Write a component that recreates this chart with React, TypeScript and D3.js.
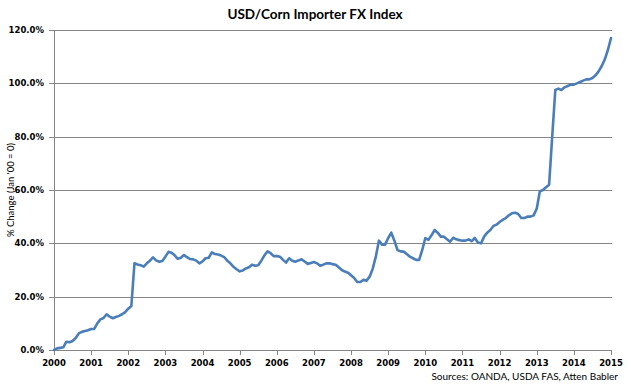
import React from "react";
import * as d3 from "d3";

const title = "USD/Corn Importer FX Index";
const yAxisTitle = "% Change (Jan '00 = 0)";
const sourceNote = "Sources: OANDA, USDA FAS, Atten Babler";
const startYear = 2000;
const yearTicks = d3.range(2000, 2016);
const yTicks = [0, 20, 40, 60, 80, 100, 120];

// Monthly values, Jan 2000 .. Jan 2015 (% change vs Jan 2000)
const values2000 = [0, 0.6, 0.8, 1, 3.1, 2.9, 3.4, 4.5, 6.2, 6.8, 7.1, 7.4];
const values2001 = [7.9, 7.9, 10, 11.5, 12, 13.4, 12.5, 11.9, 12.4, 12.8, 13.4, 14.2];
const values2002 = [15.5, 16.5, 32.5, 32.1, 31.8, 31.25, 32.5, 33.5, 34.75, 33.6, 33.1, 33.4];
const values2003 = [35, 36.8, 36.5, 35.5, 34.2, 34.6, 35.6, 34.8, 34.1, 34, 33.5, 32.5];
const values2004 = [33.2, 34.4, 34.6, 36.6, 36, 35.8, 35.4, 34.8, 33.5, 32.5, 31.2, 30.3];
const values2005 = [29.5, 29.8, 30.6, 31, 32, 31.6, 31.8, 33.5, 35.5, 37, 36.3, 35.2];
const values2006 = [35.2, 35, 33.8, 32.8, 34.4, 33.5, 33.1, 33.6, 34, 33.2, 32.3, 32.6];
const values2007 = [33, 32.5, 31.6, 32, 32.5, 32.5, 32.2, 32, 31, 30, 29.4, 29];
const values2008 = [28, 27, 25.5, 25.5, 26.3, 26, 27.5, 30.5, 35, 41, 39.5, 39.5];
const values2009 = [42, 44, 41, 37.5, 37, 36.9, 36, 35, 34.4, 33.8, 33.8, 37.5];
const values2010 = [42, 41.3, 43, 45, 44, 42.5, 42.5, 41.5, 40.6, 42.1, 41.5, 41.2];
const values2011 = [41, 41, 41.5, 40.8, 42, 40.3, 40, 42.5, 44, 45, 46.5, 47];
const values2012 = [48, 48.8, 49.5, 50.5, 51.3, 51.5, 51, 49.5, 49.5, 50, 50, 50.5];
const values2013 = [53, 59.5, 60, 61, 62, 80, 97.5, 98, 97.5, 98.5, 99, 99.5];
const values2014 = [99.5, 100, 100.5, 101, 101.5, 101.5, 102, 103, 104.5, 106.5, 109, 112.5];
const values2015 = [117];

const allValues = [
  ...values2000, ...values2001, ...values2002, ...values2003, ...values2004,
  ...values2005, ...values2006, ...values2007, ...values2008, ...values2009,
  ...values2010, ...values2011, ...values2012, ...values2013, ...values2014,
  ...values2015,
];

const W = 628;
const H = 388;
const left = 54;
const right = 611;
const top = 30;
const bottom = 350;

export default function App() {
  const x = d3.scaleLinear().domain([2000, 2015]).range([left, right]);
  const y = d3.scaleLinear().domain([0, 120]).range([bottom, top]);
  const data = allValues.map((v, i) => ({ t: startYear + i / 12, v }));
  const line = d3
    .line<{ t: number; v: number }>()
    .x((d) => x(d.t))
    .y((d) => y(d.v))
    .curve(d3.curveLinear);
  const gridColor = "#868686";
  const font = "'DejaVu Sans', Verdana, sans-serif";
  return (
    <svg width={W} height={H} style={{ position: "absolute", left: 0, top: 0, background: "#fff" }}>
      <rect x={0} y={0} width={W} height={H} fill="#fff" />
      <text x={315} y={19} textAnchor="middle" fontFamily="Lato, sans-serif" fontWeight="bold" fontSize={13.5} fill="#000">
        {title}
      </text>
      {yTicks.map((t) => (
        <g key={t}>
          {t > 0 && (
            <line x1={left} x2={right + 1} y1={Math.round(y(t)) + 0.5} y2={Math.round(y(t)) + 0.5} stroke={gridColor} strokeWidth={1} />
          )}
          <line x1={left - 5} x2={left} y1={Math.round(y(t)) + 0.5} y2={Math.round(y(t)) + 0.5} stroke={gridColor} strokeWidth={1} />
          <text x={44} y={y(t) + 3} textAnchor="end" fontFamily={font} fontWeight="bold" fontSize={8.5} fill="#000">
            {t.toFixed(1) + "%"}
          </text>
        </g>
      ))}
      <line x1={left + 0.5} x2={left + 0.5} y1={top} y2={bottom} stroke={gridColor} strokeWidth={1} />
      <line x1={left} x2={right + 1} y1={bottom + 0.5} y2={bottom + 0.5} stroke={gridColor} strokeWidth={1} />
      {yearTicks.map((yr) => (
        <g key={yr}>
          <line x1={Math.round(x(yr)) + 0.5} x2={Math.round(x(yr)) + 0.5} y1={bottom} y2={bottom + 5} stroke={gridColor} strokeWidth={1} />
          <text x={x(yr)} y={bottom + 16} textAnchor="middle" fontFamily={font} fontWeight="bold" fontSize={8.5} fill="#000">
            {yr}
          </text>
        </g>
      ))}
      <text
        transform={`translate(14,${(top + bottom) / 2}) rotate(-90)`}
        textAnchor="middle"
        fontFamily="Lato, sans-serif"
        fontSize={9.5}
        fill="#000"
      >
        {yAxisTitle}
      </text>
      <path d={line(data) || ""} fill="none" stroke="#4A7EBB" strokeWidth={2.6} strokeLinejoin="round" strokeLinecap="round" />
      <text x={618} y={380} textAnchor="end" fontFamily="Lato, sans-serif" fontSize={10} fill="#000">
        {sourceNote}
      </text>
    </svg>
  );
}
